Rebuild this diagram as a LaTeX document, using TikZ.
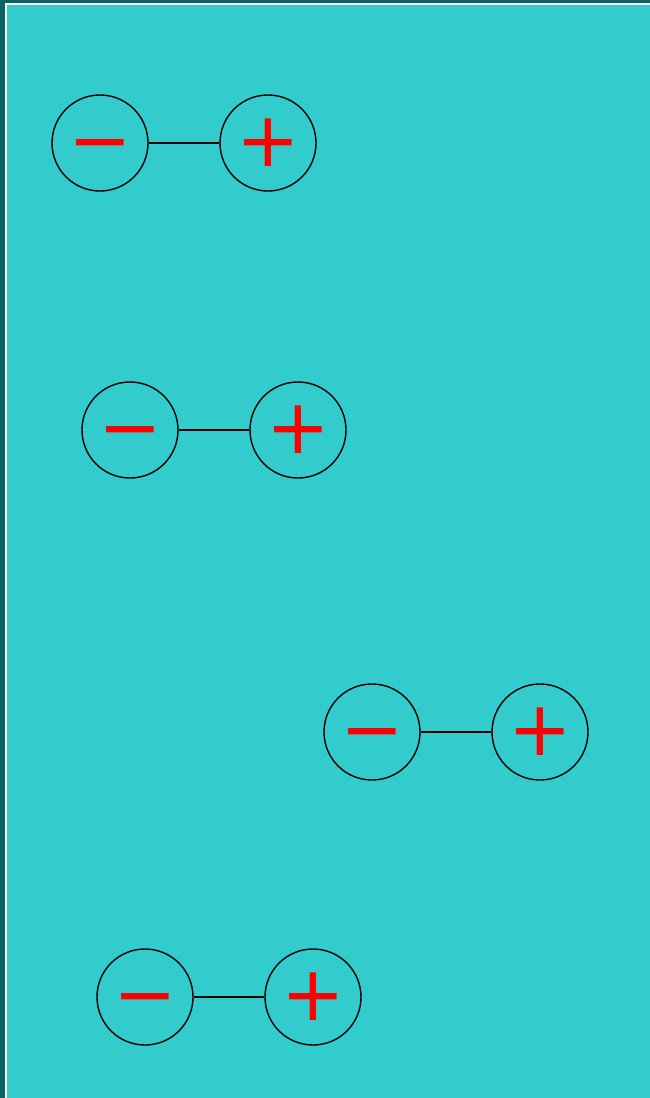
\documentclass[tikz,border=0pt]{standalone}
\usepackage{fontspec}
\newfontfamily\signfont{DejaVu Sans}
\definecolor{bgdark}{HTML}{0B6262}
\definecolor{teal}{HTML}{33CCCC}
\definecolor{signred}{HTML}{FF0000}
\newcommand{\minussign}{\vphantom{+}\smash{−}}
\tikzset{
  x=1pt, y=-1pt,
  pole/.style={circle, draw=black, line width=1.4pt, minimum size=96pt, inner sep=0pt, text=signred, font=\signfont\fontsize{76}{76}\selectfont},
  link/.style={draw=black, line width=1.4pt}
}
\begin{document}
\begin{tikzpicture}
\useasboundingbox (0,0) rectangle (650,1098);
\fill[bgdark] (0,0) rectangle (650,1098);
\fill[white] (5,3) rectangle (650,1098);
\fill[teal] (7,5) rectangle (650,1098);
\node[pole] (m1) at (100,143) {\minussign};
\node[pole] (p1) at (268,143) {+};
\draw[link] (m1) -- (p1);
\node[pole] (m2) at (130,430) {\minussign};
\node[pole] (p2) at (298,430) {+};
\draw[link] (m2) -- (p2);
\node[pole] (m3) at (372,732) {\minussign};
\node[pole] (p3) at (540,732) {+};
\draw[link] (m3) -- (p3);
\node[pole] (m4) at (145,997) {\minussign};
\node[pole] (p4) at (313,997) {+};
\draw[link] (m4) -- (p4);
\end{tikzpicture}
\end{document}
